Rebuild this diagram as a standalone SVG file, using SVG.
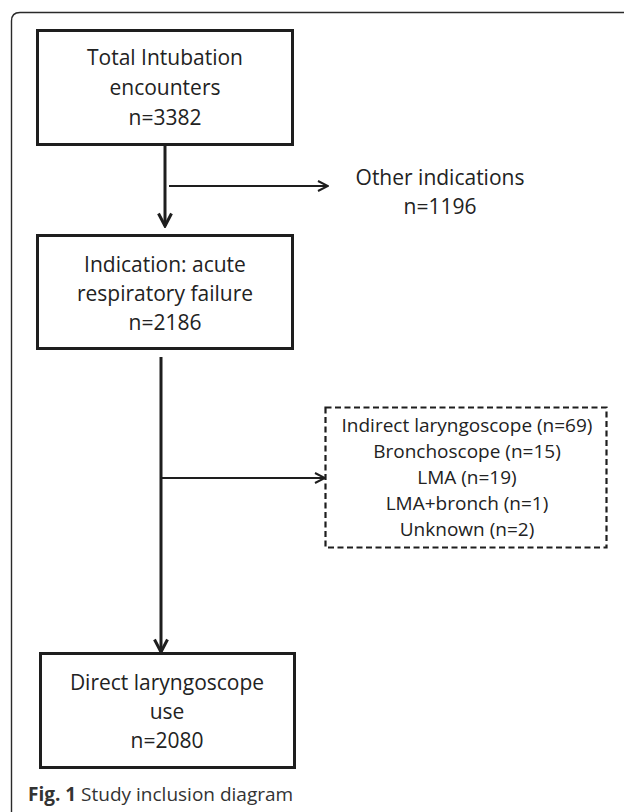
<svg xmlns="http://www.w3.org/2000/svg" width="624" height="812" viewBox="0 0 624 812">
<defs>
<style>
.box{fill:#fff;stroke:#1e1e1e;stroke-width:3}
.dash{fill:#fff;stroke:#1e1e1e;stroke-width:2.2;stroke-dasharray:6 3.5}
.t{font-family:"Open Sans","Liberation Sans",sans-serif;font-size:21px;fill:#222;text-anchor:middle}
.s{font-family:"Open Sans","Liberation Sans",sans-serif;font-size:19px;fill:#222;text-anchor:middle}
.cap{font-family:"Open Sans","Liberation Sans",sans-serif;font-size:19px;fill:#333}
.ln{fill:none;stroke:#1e1e1e}
</style>
<marker id="ah" viewBox="0 0 12 12" refX="11" refY="6" markerWidth="12" markerHeight="12" markerUnits="userSpaceOnUse" orient="auto">
<path d="M1,1 L11,6 L1,11" fill="none" stroke="#1e1e1e" stroke-width="2"/>
</marker>
<marker id="ahb" viewBox="0 0 16 16" refX="14" refY="8" markerWidth="16" markerHeight="16" markerUnits="userSpaceOnUse" orient="auto">
<path d="M1.5,1.5 L14,8 L1.5,14.5" fill="none" stroke="#1e1e1e" stroke-width="3"/>
</marker>
</defs>
<rect width="624" height="812" fill="#fff"/>
<path d="M11.5,812 L11.5,21 Q11.5,12.5 20,12.5 L624,12.5" fill="none" stroke="#2a2a2a" stroke-width="1.4"/>
<g id="connectors">
<line class="ln" x1="165" y1="145" x2="165" y2="226" stroke-width="3" marker-end="url(#ahb)"/>
<line class="ln" x1="169" y1="186" x2="328" y2="186" stroke-width="2" marker-end="url(#ah)"/>
<line class="ln" x1="161" y1="357" x2="161" y2="652" stroke-width="3" marker-end="url(#ahb)"/>
<line class="ln" x1="162" y1="478" x2="325" y2="478" stroke-width="2" marker-end="url(#ah)"/>
</g>
<g id="n1">
<rect class="box" x="37.5" y="30.5" width="255" height="114"/>
<text class="t" x="165" y="65">Total Intubation</text>
<text class="t" x="165" y="95">encounters</text>
<text class="t" x="165" y="125">n=3382</text>
</g>
<g id="n_other">
<text class="t" x="440" y="185">Other indications</text>
<text class="t" x="440" y="214">n=1196</text>
</g>
<g id="n2">
<rect class="box" x="37.5" y="235.5" width="255" height="113"/>
<text class="t" x="165" y="272">Indication: acute</text>
<text class="t" x="165" y="301">respiratory failure</text>
<text class="t" x="165" y="330">n=2186</text>
</g>
<g id="n_excl">
<rect class="dash" x="325.5" y="407.5" width="281" height="140"/>
<text class="s" x="467" y="432">Indirect laryngoscope (n=69)</text>
<text class="s" x="467" y="458">Bronchoscope (n=15)</text>
<text class="s" x="467" y="484">LMA (n=19)</text>
<text class="s" x="467" y="510">LMA+bronch (n=1)</text>
<text class="s" x="467" y="536">Unknown (n=2)</text>
</g>
<g id="n3">
<rect class="box" x="40.5" y="653.5" width="254" height="114"/>
<text class="t" x="167" y="690">Direct laryngoscope</text>
<text class="t" x="167" y="719">use</text>
<text class="t" x="167" y="748">n=2080</text>
</g>
<text class="cap" x="28" y="801"><tspan font-weight="bold" fill="#333">Fig. 1</tspan> Study inclusion diagram</text>
</svg>
